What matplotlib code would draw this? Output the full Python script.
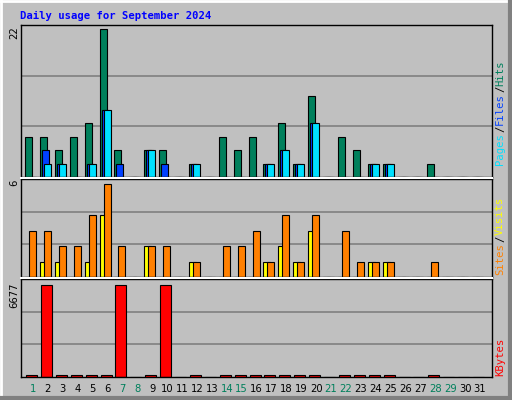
import matplotlib
matplotlib.use("Agg")
import matplotlib.pyplot as plt
import numpy as np

days = list(range(1, 32))
hits  = [6,6,4,6,8,22,4,0,4,4,0,2,0,6,4,6,2,8,2,12,0,6,4,2,2,0,0,2,0,0,0]
files = [0,4,2,0,2,10,2,0,4,2,0,2,0,0,0,0,2,4,2,8,0,0,0,2,2,0,0,0,0,0,0]
pages = [0,2,2,0,2,10,0,0,4,0,0,2,0,0,0,0,2,4,2,8,0,0,0,2,2,0,0,0,0,0,0]
visits= [0,1,1,0,1,4,0,0,2,0,0,1,0,0,0,0,1,2,1,3,0,0,0,1,1,0,0,0,0,0,0]
sites = [3,3,2,2,4,6,2,0,2,2,0,1,0,2,2,3,1,4,1,4,0,3,1,1,1,0,0,1,0,0,0]
kbytes= [30,6677,30,30,30,30,6677,0,30,6677,0,30,0,30,30,30,30,30,30,30,0,30,30,30,30,0,0,30,0,0,0]
weekend = [1,7,8,14,15,21,22,28,29]
max_hits, max_sites, max_kb = 22, 6, 6677

W, H = 512, 400
fig = plt.figure(figsize=(5.12, 4.0), dpi=100, facecolor="#C0C0C0")
mono = "DejaVu Sans Mono"

def px(x, y):
    return x / W, 1 - y / H

# bevel border
fig.add_artist(plt.Line2D([0, 1], [1 - 1/H, 1 - 1/H], color="white", lw=2))
fig.add_artist(plt.Line2D([1/W, 1/W], [0, 1], color="white", lw=2))
fig.add_artist(plt.Line2D([0, 1], [2/H, 2/H], color="#808080", lw=3))
fig.add_artist(plt.Line2D([1 - 2/W, 1 - 2/W], [0, 1], color="#808080", lw=3))

x_left, x_right = 21, 492
label0, spacing = 33.0, 14.9
def d(xpix):
    return (xpix - label0) / spacing + 1
xl = (d(x_left), d(x_right))
pxu = 1 / spacing  # one pixel in day units

def make_ax(top, bottom):
    l, b = x_left / W, 1 - bottom / H
    ax = fig.add_axes([l, b, (x_right - x_left) / W, (bottom - top) / H])
    ax.set_facecolor("#C0C0C0")
    ax.set_xlim(*xl)
    ax.set_xticks([]); ax.set_yticks([])
    for s in ax.spines.values():
        s.set_color("black"); s.set_linewidth(1)
    for f in (1/3, 2/3):
        ax.plot([0, 1], [f, f], color="#808080", lw=1.2, zorder=0, transform=ax.transAxes)
    return ax

x = np.array(days, dtype=float)
ec = dict(edgecolor="black", linewidth=0.8)

# top panel
ax1 = make_ax(25, 177)
ax1.set_ylim(0, max_hits * 151 / 147)
bw = 7 * pxu
ax1.bar(x - 8*pxu, hits, width=bw, align="edge", color="#00805C", **ec)
ax1.bar(x - 6*pxu, files, width=bw, align="edge", color="#0040FF", **ec)
ax1.bar(x - 4*pxu, pages, width=bw, align="edge", color="#00E0FF", **ec)

# middle panel
ax2 = make_ax(179, 277)
ax2.set_ylim(0, max_sites * 97 / 92)
ax2.bar(x - 8*pxu, visits, width=bw, align="edge", color="#FFFF00", **ec)
ax2.bar(x - 4*pxu, sites, width=bw, align="edge", color="#FF8000", **ec)

# bottom panel
ax3 = make_ax(279, 377)
ax3.set_ylim(0, max_kb * 97 / 91)
kbw = 11 * pxu
kb_plot = [max(v, 120) if v > 0 else 0 for v in kbytes]
ax3.bar(x - 7*pxu, kb_plot, width=kbw, align="edge", color="#FF0000", **ec)

# white separators
for yy in (178, 278):
    fig.add_artist(plt.Line2D([x_left/W, x_right/W], [1 - yy/H]*2, color="white", lw=1.5))

# title
fig.text(*px(20, 16), "Daily usage for September 2024", color="#0000FF",
         fontfamily=mono, fontweight="bold", fontsize=7.6, va="center", ha="left")

# day labels
for dd in days:
    xx = label0 + (dd - 1) * spacing
    fig.text(*px(xx, 389), str(dd), ha="center", va="center", fontsize=7.2,
             color="#00805C" if dd in weekend else "black", fontfamily="DejaVu Sans")

# left max labels
fig.text(*px(14, 26), str(max_hits), rotation=90, ha="center", va="top", fontsize=7.2)
fig.text(*px(14, 180), str(max_sites), rotation=90, ha="center", va="top", fontsize=7.2)
fig.text(*px(14, 282), str(max_kb), rotation=90, ha="center", va="top", fontsize=7.2)

# right labels
def vlabel(parts, ybottom, xpos=500, cw=6.6):
    y = ybottom
    for txt, col in parts:
        fig.text(*px(xpos, y), txt, rotation=90, ha="center", va="bottom",
                 color=col, fontfamily=mono, fontsize=7.6)
        y -= cw * len(txt)

vlabel([("Pages", "#00E0FF"), ("/", "black"), ("Files", "#0040FF"),
        ("/", "black"), ("Hits", "#00805C")], 165)
vlabel([("Sites", "#FF8000"), ("/", "black"), ("Visits", "#FFFF00")], 275)
vlabel([("KBytes", "#FF0000")], 376)

fig.savefig("out.png", dpi=100, facecolor=fig.get_facecolor())
